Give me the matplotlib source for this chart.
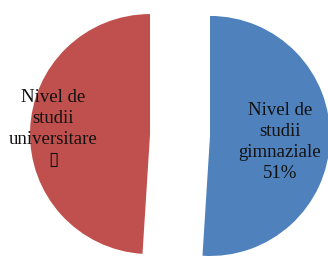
import numpy as np
import matplotlib
matplotlib.use('Agg')
import matplotlib.pyplot as plt

labels = ['Nivel de\nstudii\ngimnaziale\n51%', 'Nivel de\nstudii\nuniversitare\n\u25af']
values = [51, 49]
colors = ['#4F81BD', '#C0504D']
explode = [0.25, 0.25]

fig = plt.figure(figsize=(3.28, 2.56), dpi=100)
ax = fig.add_axes([0, 0, 1, 1])

wedges, _ = ax.pie(values, colors=colors, explode=explode, startangle=90,
                   counterclock=False, radius=1, wedgeprops=dict(linewidth=0))

# label positions (inside the slices)
label_pos = [(0.833, -0.06), (-1.058, 0.05)]
for lab, (x, y) in zip(labels, label_pos):
    ax.text(x, y, lab, ha='center', va='center', fontsize=13.5,
            family=['Liberation Serif', 'DejaVu Sans'], color='#111111',
            linespacing=1.32)

ax.set_xlim(-1.5, 1.233)
ax.set_ylim(-1.008, 1.125)
ax.set_aspect('auto')
ax.axis('off')

plt.savefig('out.png', dpi=100)
